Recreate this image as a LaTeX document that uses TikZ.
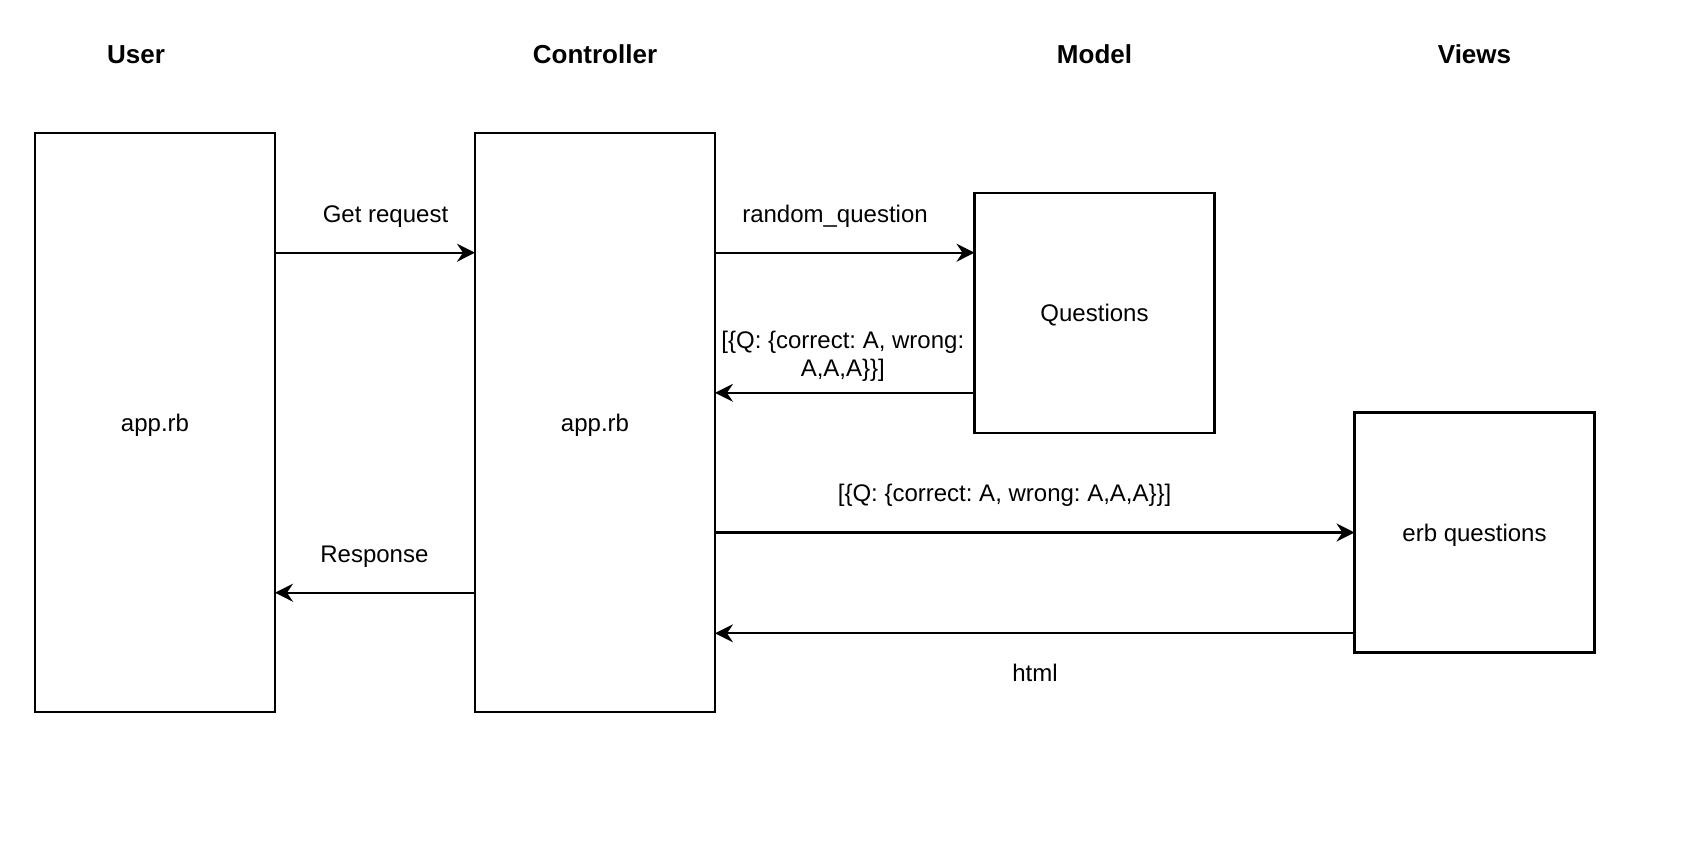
\documentclass[tikz,border=0pt]{standalone}
\usepackage{fontspec}
\setmainfont{Liberation Sans}
\usetikzlibrary{arrows.meta,positioning}
\frenchspacing

\begin{document}
\begin{tikzpicture}[
x=0.5pt, y=-0.5pt,
every node/.style={font=\fontsize{12}{14}\selectfont, align=center},
tallbox/.style={draw, line width=1.1pt, outer sep=0pt, minimum width=120pt, minimum height=289.5pt, text height=11.5pt, text depth=3pt},
sqbox/.style={draw, line width=1.1pt, outer sep=0pt, minimum width=120pt, minimum height=120pt, text height=11.5pt, text depth=3pt},
head/.style={font=\fontsize{13}{15}\selectfont\bfseries, anchor=base},
lbl/.style={inner sep=0pt, anchor=base},
arrow/.style={-{Stealth[length=9pt, width=9pt, inset=3pt]}, line width=1.1pt}
]
\useasboundingbox (0,0) rectangle (1692,842);
% boxes
\node[tallbox] (user) at (155,422.5) {app.rb};
\node[tallbox, right=100pt of user] (ctrl) {app.rb};
\node[sqbox] (quest) at (1094.5,313) {Questions};
\node[sqbox] (erb) at (1474.5,532.5) {erb questions};
% column heads
\coordinate (hrow) at (0,63.3);
\node[head] (huser) at (136,63.3) {User};
\node[head] (hctrl) at (ctrl |- hrow) {Controller};
\node[head] (hmodel) at (quest |- hrow) {Model};
\node[head] (hviews) at (erb |- hrow) {Views};
% arrow rows
\coordinate (rget) at (0,252.7);
\coordinate (rback) at (0,392.8);
\coordinate (rresp) at (0,592.7);
\coordinate (rhtml) at (0,633.3);
\draw[arrow] (user.east |- rget) -- (ctrl.west |- rget);
\draw[arrow] (ctrl.east |- rget) -- (quest.west |- rget);
\draw[arrow] (quest.west |- rback) -- (ctrl.east |- rback);
\draw[arrow] (ctrl.east |- erb.west) -- (erb.west);
\draw[arrow] (erb.west |- rhtml) -- (ctrl.east |- rhtml);
\draw[arrow] (ctrl.west |- rresp) -- (user.east |- rresp);
% labels
\node[lbl] (lget) at (385.5,222) {Get request};
\node[lbl] (lrand) at (835,222) {random\_question};
\node[lbl] (lback) at (842.8,376.5) {[\{Q: \{correct: A, wrong:\\A,A,A\}\}]};
\node[lbl] (lerb) at (1004.6,501.5) {[\{Q: \{correct: A, wrong: A,A,A\}\}]};
\node[lbl] (lhtml) at (1035,681.5) {html};
\node[lbl] (lresp) at (374.4,562) {Response};
\end{tikzpicture}
\end{document}
